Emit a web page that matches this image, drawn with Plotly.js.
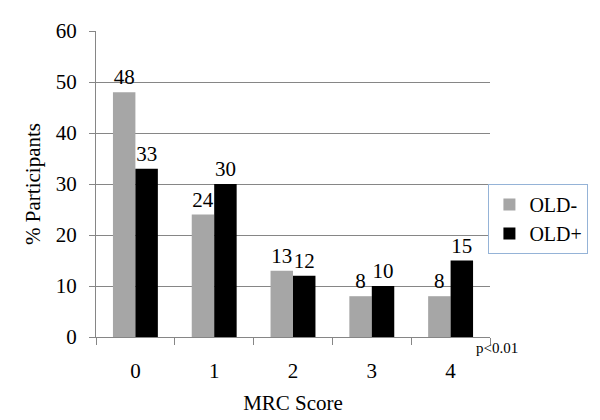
<!DOCTYPE html>
<html>
<head>
<meta charset="utf-8">
<script src="https://cdn.plot.ly/plotly-3.0.1.min.js"></script>
<style>html,body{margin:0;padding:0;background:#fff;}#chart{width:600px;height:420px;}</style>
</head>
<body>
<div id="chart"></div>
<script>
const categories = ['0', '1', '2', '3', '4'];
const oldMinus = [48, 24, 13, 8, 8];
const oldPlus = [33, 30, 12, 10, 15];
const seriesNames = ['OLD-', 'OLD+'];
const yTicks = [0, 10, 20, 30, 40, 50, 60];

const font = '"Liberation Serif", "Times New Roman", serif';

const traces = [
  {
    type: 'bar', name: seriesNames[0], x: categories, y: oldMinus,
    marker: {color: '#A6A6A6'},
    text: oldMinus.map(String), textposition: 'outside', cliponaxis: false,
    textfont: {family: font, size: 21, color: '#000'}
  },
  {
    type: 'bar', name: seriesNames[1], x: categories, y: oldPlus,
    marker: {color: '#000000'},
    text: oldPlus.map(String), textposition: 'outside', cliponaxis: false,
    textfont: {family: font, size: 21, color: '#000'}
  }
];

const layout = {
  width: 600, height: 420,
  margin: {l: 96, r: 107, t: 31, b: 83},
  paper_bgcolor: '#fff', plot_bgcolor: '#fff',
  font: {family: font, size: 20, color: '#000'},
  barmode: 'group', bargap: 0.43, bargroupgap: 0,
  showlegend: true,
  legend: {
    x: 0.996, xanchor: 'left', y: 0.5, yanchor: 'top',
    bordercolor: '#95B3D7', borderwidth: 1, bgcolor: '#fff',
    font: {family: font, size: 20, color: '#000'},
    itemwidth: 30, tracegroupgap: 0
  },
  xaxis: {
    type: 'category',
    title: {text: 'MRC Score', font: {family: font, size: 21, color: '#000'}, standoff: 13},
    showline: true, linecolor: '#868686', linewidth: 1,
    ticks: 'outside', tickson: 'boundaries', ticklen: 7, tickcolor: '#868686',
    ticklabelstandoff: 15,
    tickfont: {family: font, size: 21, color: '#000'},
    showgrid: false
  },
  yaxis: {
    range: [0, 60], tickvals: yTicks, ticktext: yTicks.map(String),
    title: {text: '% Participants', font: {family: font, size: 21, color: '#000'}, standoff: 9},
    showline: true, linecolor: '#868686', linewidth: 1,
    ticks: 'outside', ticklen: 6, tickcolor: '#868686',
    ticklabelstandoff: 8,
    showgrid: true, gridcolor: '#868686', gridwidth: 1,
    zeroline: false,
    tickfont: {family: font, size: 21, color: '#000'}
  },
  annotations: [
    {text: 'p<0.01', xref: 'paper', yref: 'paper', x: 0.96, y: 0, xanchor: 'left', yanchor: 'top',
     yshift: -1, showarrow: false, font: {family: font, size: 15, color: '#000'}}
  ]
};

Plotly.newPlot('chart', traces, layout, {displayModeBar: false, staticPlot: true});
</script>
</body>
</html>
